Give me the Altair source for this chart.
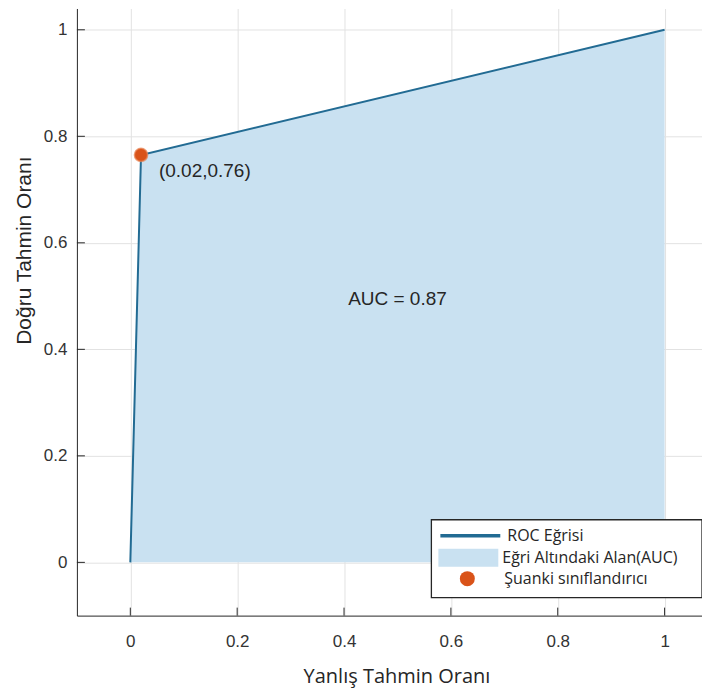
import altair as alt
import pandas as pd

# ---- data ----
fpr = [0.0, 0.02, 1.0]
tpr = [0.0, 0.765, 1.0]
point_x = [0.02]
point_y = [0.765]
point_text = ["(0.02,0.76)"]
auc_x = [0.50]
auc_y = [0.495]
auc_text = ["AUC = 0.87"]
x_ticks = [0, 0.2, 0.4, 0.6, 0.8, 1]
y_ticks = [0, 0.2, 0.4, 0.6, 0.8, 1]
legend_labels = ["ROC Eğrisi", "Eğri Altındaki Alan(AUC)", "Şuanki sınıflandırıcı"]

LINE_C = "#226b93"
FILL_C = "#c9e1f1"
DOT_C = "#d95319"
AX_C = "#262626"
L0, L1, L2 = legend_labels

roc = pd.DataFrame({"fpr": fpr, "tpr": tpr})
pt = pd.DataFrame({"fpr": point_x, "tpr": point_y, "txt": point_text})
auc = pd.DataFrame({"fpr": auc_x, "tpr": auc_y, "txt": auc_text})
xt = pd.DataFrame({"fpr": x_ticks})
yt = pd.DataFrame({"tpr": y_ticks})
box = pd.DataFrame({"k": [0]})

xs = alt.Scale(domain=[-0.1, 1.07], nice=False, zero=False)
ys = alt.Scale(domain=[-0.1, 1.04], nice=False, zero=False)

axis_x = alt.Axis(values=x_ticks, format="~g", grid=True, gridColor="#e2e2e2",
                  domainColor=AX_C, tickSize=0, labelFont="Liberation Sans",
                  labelFontSize=17, labelColor="#333333", labelPadding=18,
                  title="Yanlış Tahmin Oranı", titleFont="Open Sans", titleFontSize=20,
                  titleFontWeight="normal", titleColor=AX_C,
                  titleX=320, titleY=67, titleAlign="center", titleBaseline="alphabetic")
axis_y = alt.Axis(values=y_ticks, format="~g", grid=True, gridColor="#e2e2e2",
                  domainColor=AX_C, tickSize=0, labelFont="Liberation Sans",
                  labelFontSize=17, labelColor="#333333", labelPadding=10,
                  title="Doğru Tahmin Oranı", titleFont="Liberation Sans", titleFontSize=21,
                  titleFontWeight="normal", titleColor=AX_C, titleAngle=270,
                  titleX=-52, titleY=242, titleAlign="center", titleBaseline="middle")

common_leg = dict(title=None, orient="none", padding=0, labelFont="Open Sans",
                  labelFontSize=16, labelColor=AX_C, labelLimit=400)

leg_line = alt.Legend(legendX=362, legendY=496, symbolType="stroke", symbolSize=3600,
                      symbolStrokeWidth=3.5, labelOffset=5, **common_leg)
leg_area = alt.Legend(legendX=362, legendY=520, symbolType="M-1,-0.3H1V0.3H-1Z",
                      symbolSize=3600, symbolStrokeWidth=0, labelOffset=4, **common_leg)
leg_dot = alt.Legend(legendX=383, legendY=563, symbolType="circle", symbolSize=225,
                     symbolFillColor=DOT_C, symbolStrokeWidth=0, labelOffset=29, **common_leg)

X = alt.X("fpr:Q", scale=xs, axis=axis_x)
Y = alt.Y("tpr:Q", scale=ys, axis=axis_y)

area = alt.Chart(roc).mark_area(opacity=1).encode(
    x=X, y=Y,
    fill=alt.Fill("s:N", scale=alt.Scale(domain=[L1], range=[FILL_C]), legend=leg_area)
).transform_calculate(s=f"'{L1}'")

line = alt.Chart(roc).mark_line(strokeWidth=2).encode(
    x=X, y=Y,
    stroke=alt.Stroke("s:N", scale=alt.Scale(domain=[L0], range=[LINE_C]), legend=leg_line)
).transform_calculate(s=f"'{L0}'")

dot = alt.Chart(pt).mark_point(filled=True, size=175, opacity=1, color=DOT_C,
                               stroke="#e8875a", strokeWidth=1.5, strokeOpacity=0.7).encode(
    x=X, y=Y,
    shape=alt.Shape("s:N", scale=alt.Scale(domain=[L2], range=["circle"]), legend=leg_dot)
).transform_calculate(s=f"'{L2}'")

ptxt = alt.Chart(pt).mark_text(align="left", baseline="middle", dx=18, dy=16,
                               font="Liberation Sans", fontSize=19, color=AX_C).encode(
    x=X, y=Y, text="txt:N")

atxt = alt.Chart(auc).mark_text(align="center", baseline="middle",
                                font="Liberation Sans", fontSize=19, color=AX_C).encode(
    x=X, y=Y, text="txt:N")

xtick = alt.Chart(xt).mark_rule(color=AX_C, strokeWidth=1).encode(
    x=X, y=alt.value(608), y2=alt.value(600))
ytick = alt.Chart(yt).mark_rule(color=AX_C, strokeWidth=1).encode(
    y=Y, x=alt.value(0), x2=alt.value(8))

legbox = alt.Chart(box).mark_rect(fill="white", stroke=AX_C, strokeWidth=1.3).encode(
    x=alt.value(355), x2=alt.value(626), y=alt.value(512), y2=alt.value(590))

chart = alt.layer(area, line, dot, ptxt, atxt, xtick, ytick, legbox).resolve_scale(
    fill="independent", stroke="independent", shape="independent"
).properties(
    width=626, height=608,
    autosize=alt.AutoSizeParams(type="none"),
    padding={"left": 69, "top": 0, "right": 0, "bottom": 75},
    background="white",
).configure_view(stroke=None)

chart.save("out.html", embed_options={"renderer": "svg", "actions": False})
